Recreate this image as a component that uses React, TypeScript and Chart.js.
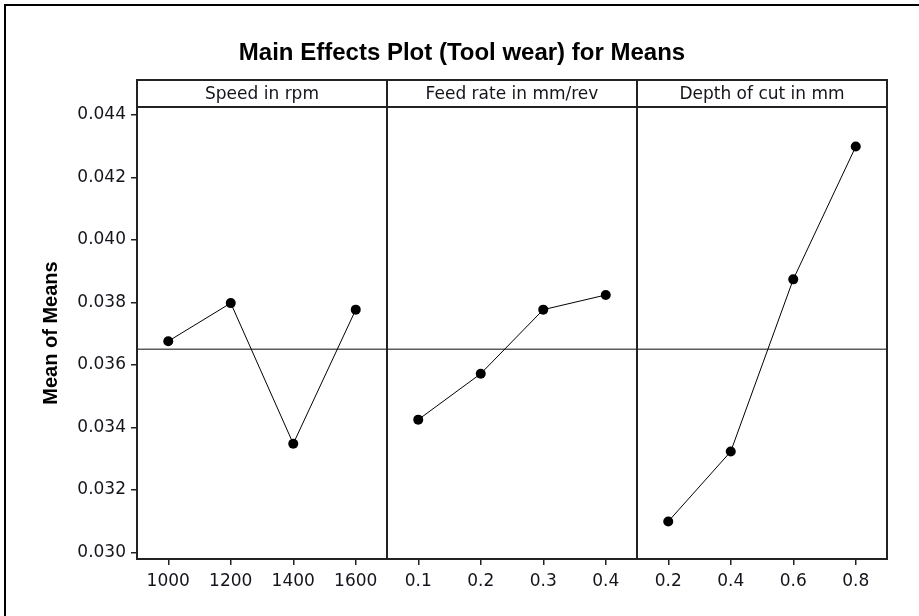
import React, { useEffect, useRef } from 'react';
import { Chart, registerables } from 'chart.js';

Chart.register(...registerables);

// ---- data ----
const chartTitle = 'Main Effects Plot (Tool wear) for Means';
const yAxisTitle = 'Mean of Means';
const panelTitles = ['Speed in rpm', 'Feed rate in mm/rev', 'Depth of cut in mm'];
const speedLabels = ['1000', '1200', '1400', '1600'];
const feedLabels = ['0.1', '0.2', '0.3', '0.4'];
const depthLabels = ['0.2', '0.4', '0.6', '0.8'];
const speedMeans = [0.03676, 0.03798, 0.03348, 0.03777];
const feedMeans = [0.03425, 0.03572, 0.03777, 0.03824];
const depthMeans = [0.03099, 0.03323, 0.03874, 0.04299];
const grandMean = 0.0365;
const yTicks = [0.03, 0.032, 0.034, 0.036, 0.038, 0.04, 0.042, 0.044];
const yMin = 0.02979;
const yMax = 0.044256;

const allXLabels = [...speedLabels, ...feedLabels, ...depthLabels];
const panels = [speedMeans, feedMeans, depthMeans];
const levelsPerPanel = 4;

const TEXT = '#14141c';

const framePlugin = {
  id: 'minitabFrame',
  beforeDraw(chart: any) {
    const { ctx, width, height } = chart;
    ctx.save();
    ctx.fillStyle = '#ffffff';
    ctx.fillRect(0, 0, width, height);
    ctx.restore();
  },
  afterDraw(chart: any) {
    const { ctx, chartArea, scales } = chart;
    const xs = scales.x;
    const { left, right, top, bottom } = chartArea;
    const hTop = 80;
    ctx.save();
    // outer border
    ctx.strokeStyle = '#000';
    ctx.lineWidth = 2;
    ctx.beginPath();
    ctx.moveTo(5, 620);
    ctx.lineTo(5, 5);
    ctx.lineTo(925, 5);
    ctx.stroke();
    // title
    ctx.fillStyle = '#000';
    ctx.font = 'bold 24px "Liberation Sans", Arial, sans-serif';
    ctx.textAlign = 'center';
    ctx.textBaseline = 'alphabetic';
    ctx.fillText(chartTitle, 462, 60);
    // header band & plot frame
    ctx.strokeStyle = '#222';
    ctx.lineWidth = 2;
    ctx.strokeRect(left, hTop, right - left, top - hTop);
    ctx.strokeRect(left, top, right - left, bottom - top);
    // panel separators
    for (let p = 1; p < panels.length; p++) {
      const px = Math.round(xs.getPixelForValue(p * levelsPerPanel)) + 0.0;
      ctx.beginPath();
      ctx.moveTo(px, hTop);
      ctx.lineTo(px, bottom);
      ctx.stroke();
    }
    // header text
    ctx.fillStyle = TEXT;
    ctx.font = '17px "DejaVu Sans", sans-serif';
    ctx.textAlign = 'center';
    ctx.textBaseline = 'middle';
    panelTitles.forEach((t, p) => {
      const a = xs.getPixelForValue(p * levelsPerPanel);
      const b = xs.getPixelForValue((p + 1) * levelsPerPanel);
      ctx.fillText(t, (a + b) / 2, (hTop + top) / 2 + 1);
    });
    ctx.restore();
  },
};

export default function App() {
  const ref = useRef<HTMLCanvasElement | null>(null);

  useEffect(() => {
    if (!ref.current) return;
    const datasets: any[] = [
      {
        label: 'mean',
        data: [
          { x: 0, y: grandMean },
          { x: panels.length * levelsPerPanel, y: grandMean },
        ],
        borderColor: '#5c5c5c',
        borderWidth: 1.5,
        pointRadius: 0,
        order: 2,
      },
    ];
    panels.forEach((vals, p) => {
      datasets.push({
        label: panelTitles[p],
        data: vals.map((v, i) => ({ x: p * levelsPerPanel + i + 0.5, y: v })),
        borderColor: '#000',
        borderWidth: 1,
        pointRadius: 5,
        pointBackgroundColor: '#000',
        pointBorderColor: '#000',
        pointBorderWidth: 0,
        order: 1,
      });
    });

    const chart = new Chart(ref.current, {
      type: 'line',
      data: { datasets },
      options: {
        animation: false,
        responsive: false,
        maintainAspectRatio: false,
        layout: { padding: { top: 107, right: 32, bottom: 0, left: 0 } },
        plugins: {
          legend: { display: false },
          tooltip: { enabled: false },
          title: { display: false },
        },
        scales: {
          x: {
            type: 'linear',
            min: 0,
            max: panels.length * levelsPerPanel,
            afterBuildTicks: (scale: any) => {
              scale.ticks = allXLabels.map((_, i) => ({ value: i + 0.5 }));
            },
            afterFit: (scale: any) => {
              scale.height = 57;
            },
            ticks: {
              autoSkip: false,
              maxRotation: 0,
              padding: 6,
              color: TEXT,
              font: { family: '"DejaVu Sans", sans-serif', size: 17 },
              callback: (_v: any, i: number) => allXLabels[i],
            },
            grid: {
              drawOnChartArea: false,
              drawTicks: true,
              tickLength: 6,
              color: '#222',
              lineWidth: 1.5,
            },
            border: { display: false },
          },
          y: {
            type: 'linear',
            min: yMin,
            max: yMax,
            afterBuildTicks: (scale: any) => {
              scale.ticks = yTicks.map((v) => ({ value: v }));
            },
            afterFit: (scale: any) => {
              scale.width = 137;
            },
            ticks: {
              padding: 5,
              color: TEXT,
              font: { family: '"DejaVu Sans", sans-serif', size: 17 },
              callback: (v: any) => Number(v).toFixed(3),
            },
            grid: {
              drawOnChartArea: false,
              drawTicks: true,
              tickLength: 6,
              color: '#222',
              lineWidth: 1.5,
            },
            border: { display: false },
            title: {
              display: true,
              text: yAxisTitle,
              color: '#000',
              font: { family: '"Liberation Sans", Arial, sans-serif', size: 20, weight: 'bold' },
              padding: { top: 39, bottom: 0 },
            },
          },
        },
      },
      plugins: [framePlugin],
    });
    return () => chart.destroy();
  }, []);

  return (
    <div style={{ position: 'absolute', left: 0, top: 0, width: 919, height: 616, background: '#fff' }}>
      <canvas ref={ref} width={919} height={616} style={{ display: 'block' }} />
    </div>
  );
}
